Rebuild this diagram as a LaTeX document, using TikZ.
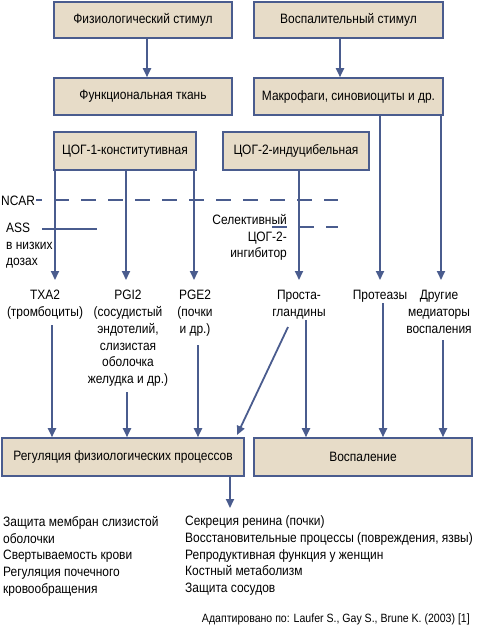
\documentclass[tikz,border=0pt]{standalone}
\usepackage{fontspec}
\setmainfont{Liberation Sans}[FakeStretch=0.88]
\usetikzlibrary{arrows.meta}
\definecolor{bfill}{HTML}{E7DCC8}
\definecolor{bline}{HTML}{4A5C8E}
\begin{document}
\begin{tikzpicture}[x=1pt,y=-1pt, font=\fontsize{13.6}{16.8}\selectfont,
  box/.style={draw=bline, fill=bfill, line width=1.6pt, inner sep=0pt},
  arr/.style={draw=bline, line width=1.8pt, -{Triangle[length=9pt,width=8pt]}},
  ln/.style={draw=bline, line width=1.8pt},
  dsh/.style={draw=bline, line width=1.6pt, dash pattern=on 15pt off 12pt, dash phase=9pt},
  lab/.style={align=center, inner sep=0pt, anchor=north},
  txt/.style={align=left, inner sep=0pt, anchor=north west}]
\useasboundingbox (0,0) rectangle (478,638);
% boxes
\node[box, minimum width=178pt, minimum height=36pt] (b1) at (143,20) {Физиологический стимул};
\node[box, minimum width=189pt, minimum height=36pt] (b2) at (348.5,20) {Воспалительный стимул};
\node[box, minimum width=178pt, minimum height=37pt] (b3) at (143,96.5) {Функциональная ткань};
\node[box, minimum width=189pt, minimum height=37pt] (b4) at (348.5,96.5) {Макрофаги, синовиоциты и др.};
\node[box, minimum width=142pt, minimum height=38pt] (b5) at (125,151) {ЦОГ-1-конститутивная};
\node[box, minimum width=146pt, minimum height=38pt] (b6) at (296,151) {ЦОГ-2-индуцибельная};
\node[box, minimum width=242pt, minimum height=38pt] (b7) at (123,457) {Регуляция физиологических процессов};
\node[box, minimum width=218pt, minimum height=38pt] (b8) at (363,457) {Воспаление};
% top arrows
\draw[arr] ([xshift=4pt]b1.south) -- ([xshift=4pt]b3.north);
\draw[arr] ([xshift=-8.5pt]b2.south) -- ([xshift=-8.5pt]b4.north);
% targets of arrows row
\coordinate (t1) at (55,280);
\coordinate (t2) at (126,280);
\coordinate (t3) at (194,280);
\coordinate (t4) at (299,280);
\coordinate (t5) at (380,280);
\coordinate (t6) at (441,280);
\draw[arr] (b5.south -| t1) -- (t1);
\draw[arr] (b5.south -| t2) -- (t2);
\draw[arr] (b5.south -| t3) -- (t3);
\draw[arr] (b6.south -| t4) -- (t4);
\draw[arr] (b4.south -| t5) -- (t5);
\draw[arr] (b4.south -| t6) -- (t6);
% inhibitors
\node[inner sep=0pt, anchor=west] (ncar) at (1,200.5) {NCAR};
\coordinate (ncarend) at (338,200);
\coordinate (ncarst) at (36,200);
\draw[dsh] (ncarst) -- (ncarend);
\node[txt] (ass) at (6,222.5) {ASS\\в низких\\дозах};
\coordinate (assa) at (42,229);
\coordinate (assb) at (97,229);
\draw[draw=bline, line width=1.5pt] (assa) -- (assb);
\node[align=right, inner sep=0pt, anchor=north east] (sel) at (287,214) {Селективный\hspace{4pt}\\ЦОГ-2-\\ингибитор};
\coordinate (sela) at (272,227);
\coordinate (selb) at (338,227);
\draw[dsh, dash phase=0pt] (sela) -- (selb);
% labels
\node[lab] (l1) at (45,290) {TXA2\\(тромбоциты)};
\node[lab] (l2) at (128,290) {PGI2\\(сосудистый\\эндотелий,\\слизистая\\оболочка\\желудка и др.)};
\node[lab] (l3) at (195,290) {PGE2\\(почки\\и др.)};
\node[lab] (l4) at (299,290) {Проста-\\гландины};
\node[lab] (l5) at (380,290) {Протеазы};
\node[lab] (l6) at (439,290) {Другие\\медиаторы\\воспаления};
% arrows to bottom boxes
\coordinate (s1) at (52,325);
\coordinate (s2) at (127,392);
\coordinate (s3) at (198,345);
\coordinate (s4) at (288,327);
\coordinate (e4) at (237,435);
\coordinate (s5) at (306,320);
\coordinate (s6) at (383,303);
\coordinate (s7) at (443,340);
\draw[arr] (s1) -- (s1 |- b7.north);
\draw[arr] (s2) -- (s2 |- b7.north);
\draw[arr] (s3) -- (s3 |- b7.north);
\draw[arr] (s4) -- (e4);
\draw[arr] (s5) -- (s5 |- b8.north);
\draw[arr] (s6) -- (s6 |- b8.north);
\draw[arr] (s7) -- (s7 |- b8.north);
% output arrow
\coordinate (o1) at (230,508);
\draw[arr] (b7.south -| o1) -- (o1);
% bottom texts
\node[txt] (left) at (3,516) {Защита мембран слизистой\\оболочки\\Свертываемость крови\\Регуляция почечного\\кровообращения};
\node[txt] (right) at (185,515.5) {Секреция ренина (почки)\\Восстановительные процессы (повреждения, язвы)\\Репродуктивная функция у женщин\\Костный метаболизм\\Защита сосудов};
\node[inner sep=0pt, anchor=north east, font=\fontsize{12}{14}\selectfont] (src) at (470,613.5) {Адаптировано по: Laufer S., Gay S., Brune K. (2003) [1]};
\end{tikzpicture}
\end{document}
